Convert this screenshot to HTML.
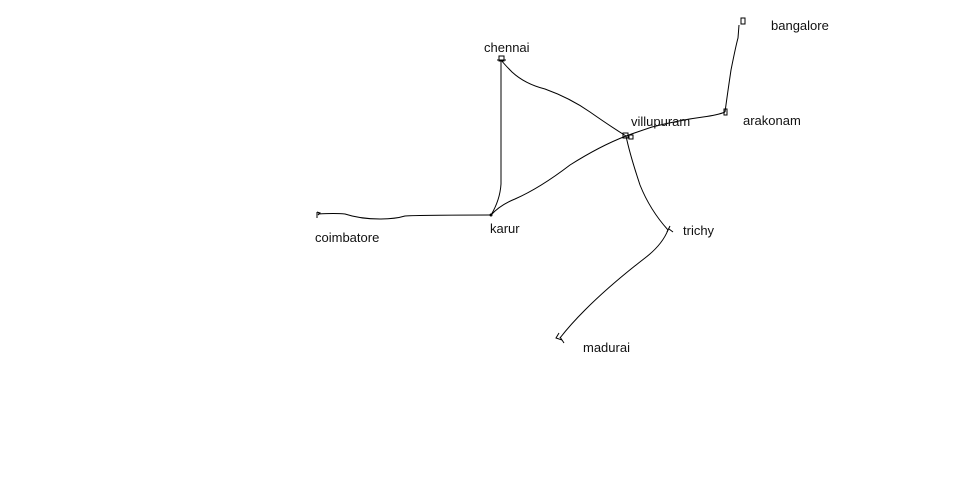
<!DOCTYPE html>
<html><head><style>
body{margin:0;background:#fff;}
svg{display:block;}
text{font-family:"Liberation Sans",sans-serif;font-size:13px;fill:#111;}
</style></head><body>
<svg width="978" height="482" viewBox="0 0 978 482">
<g fill="none" stroke="#000" stroke-width="1">
<path d="M501,60 L501,120 L501,184 Q500,200 491,215"/>
<path d="M501,60 Q505,65 512,72 Q525,84 545,89 Q570,98 590,112 Q610,126 626,136"/>
<path d="M626,136 Q640,131 652,127 Q680,120 703,117 Q718,115 725,112"/>
<path d="M725,112 Q728,90 731,70 Q736,45 738,38 L739,25"/>
<path d="M491,215 Q500,205 515,199 Q540,188 570,165 Q600,146 626,136"/>
<path d="M318,214 Q335,213 345,214 Q360,219 380,219 Q395,219 405,216 Q420,215 491,215"/>
<path d="M626,136 Q630,155 640,185 Q650,210 668,230"/>
<path d="M668,230 Q662,245 645,258 Q610,285 585,310 Q570,325 560,338"/>
<rect x="499" y="56" width="5" height="5"/>
<line x1="497" y1="60" x2="506" y2="60"/>
<rect x="741" y="18" width="4" height="6"/>
<rect x="623" y="133" width="5" height="5"/>
<rect x="629" y="135" width="4" height="4"/>
<rect x="724" y="109" width="3" height="6"/>
<path d="M317,212 L317,218 M317,212 L320,213 L318,215"/>
<path d="M667,232 L670,226 M669,229 L673,232"/>
<path d="M559,333 L556,338 L562,340 M560,337 L564,343"/>
<circle cx="491" cy="215" r="1"/>
</g>
<text x="484" y="52">chennai</text>
<text x="771" y="30">bangalore</text>
<text x="631" y="126" fill="#1a1a60">villupuram</text>
<text x="743" y="125">arakonam</text>
<text x="490" y="233">karur</text>
<text x="315" y="242">coimbatore</text>
<text x="683" y="235">trichy</text>
<text x="583" y="352">madurai</text>
</svg>
</body></html>
